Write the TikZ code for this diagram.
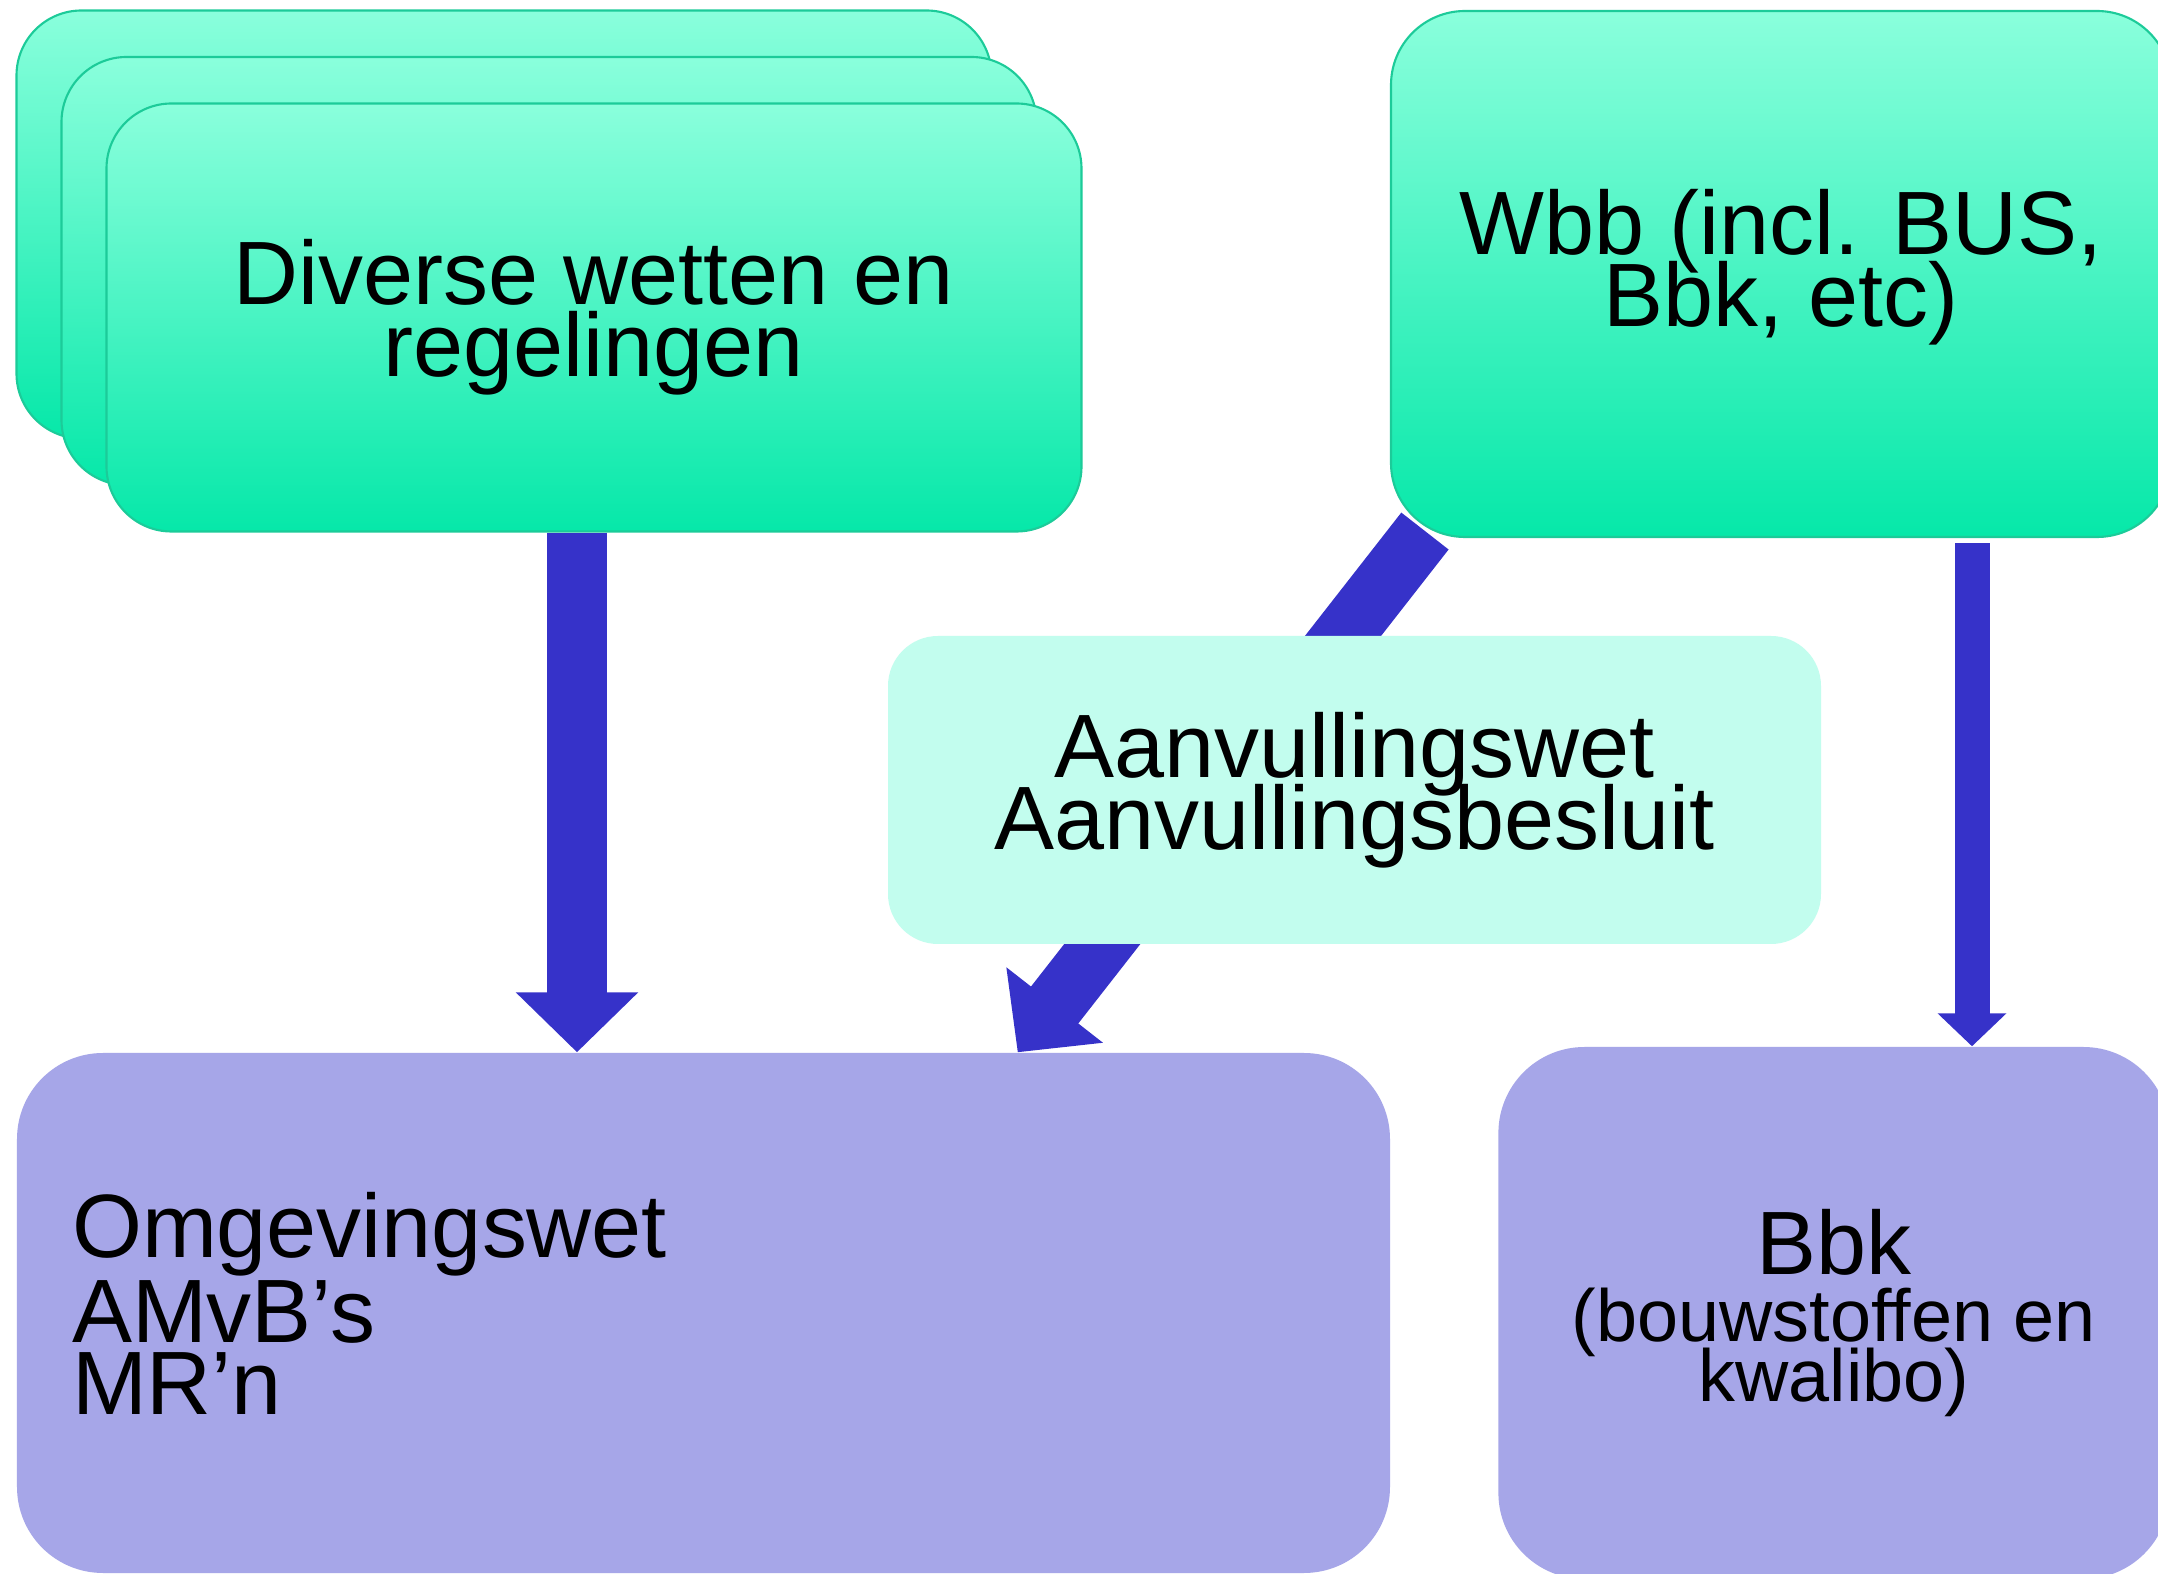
\documentclass[tikz,border=0pt]{standalone}
\usepackage{fontspec}
\setmainfont{Liberation Sans}
\usepackage{tikz}
\usetikzlibrary{arrows.meta,positioning,calc,backgrounds}

\definecolor{mintTop}{HTML}{8AFFDC}
\definecolor{mintBottom}{HTML}{06E8A9}
\definecolor{mintEdge}{HTML}{1CCB99}
\definecolor{paleMint}{HTML}{C2FDEE}
\definecolor{lavender}{HTML}{A6A6E8}
\definecolor{arrowBlue}{HTML}{3632C9}
\lineskiplimit=-100pt

\begin{document}
\begin{tikzpicture}[
    %–––– GLOBAL STYLE TWEAKS ––––
    font=\fontsize{25.6}{20.5}\selectfont,
    >=Latex,
    node distance = 1.07cm,                          % gap Omgevingswet / Bbk
    lawbox/.style    = {rectangle, draw=mintEdge, line width=0.6pt,
                        top color=mintTop, bottom color=mintBottom,
                        rounded corners=0.65cm, align=center,
                        minimum width=9.75cm, minimum height=4.28cm},
    widebox/.style   = {lawbox, rounded corners=0.74cm,
                        minimum width=7.80cm, minimum height=5.26cm},
    bridgebox/.style = {rectangle, fill=paleMint, rounded corners=0.5cm,
                        align=center,
                        minimum width=9.33cm, minimum height=3.08cm},
    newbox/.style    = {rectangle, fill=lavender, rounded corners=0.86cm,
                        minimum height=5.20cm},
    fatarrow/.style  = {draw=arrowBlue, line width=0.6cm,
                        -{Triangle[length=0.6cm, width=1.19cm]}},
    slimarrow/.style = {draw=arrowBlue, line width=0.35cm,
                        -{Triangle[length=0.33cm, width=0.67cm]}},
]
\useasboundingbox (0,0) rectangle (21.58,-15.74);

%–––– CURRENT LAWS (stacked) ––––
\node (diverse_back) [lawbox] at (5.04,-2.245) {};
\node (diverse_mid)  [lawbox] at ($(diverse_back)+(0.45,-0.465)$) {};
\node (diverse)      [lawbox] at ($(diverse_mid)+(0.45,-0.465)$) {Diverse wetten en\\regelingen};

\node (wbb)          [widebox, text height=1.24cm] at (17.81,-2.74) {Wbb (incl. BUS,\\Bbk, etc)};

%–––– NEW SYSTEM ––––
\node (omgev) [newbox, minimum width=13.73cm, text width=12.63cm, inner xsep=0.55cm,
               align=left, text height=0.46cm] at (7.035,-13.13) {Omgevingswet\\AMvB’s\\MR’n};

\node (bbk)   [newbox, minimum width=6.71cm, minimum height=5.32cm, align=center,
               right=of omgev, font=\fontsize{21}{17}\selectfont]
              {{\fontsize{25.6}{17}\selectfont Bbk}\\[2pt](bouwstoffen en\\kwalibo)};

%–––– ARROWS ––––
\coordinate (wbb_foot) at ($(wbb.south west)+(0.35,0.07)$);
\begin{scope}[on background layer]
  \fill[white] (0,0) rectangle (21.58,-15.74);
  \draw[fatarrow]  ([xshift=-0.17cm]diverse.south) -- ([xshift=-0.17cm]diverse.south |- omgev.north);
  \draw[fatarrow]  (wbb_foot) -- ([xshift=-3.73cm]omgev.north east);
  \draw[slimarrow] ([xshift=1.91cm, yshift=-0.05cm]wbb.south) -- ([xshift=1.91cm]wbb.south |- bbk.north);
\end{scope}

%–––– BRIDGE (over the diagonal arrow) ––––
\node (aanvul) [bridgebox] at (13.545,-7.90) {Aanvullingswet\\Aanvullingsbesluit};
\end{tikzpicture}
\end{document}
